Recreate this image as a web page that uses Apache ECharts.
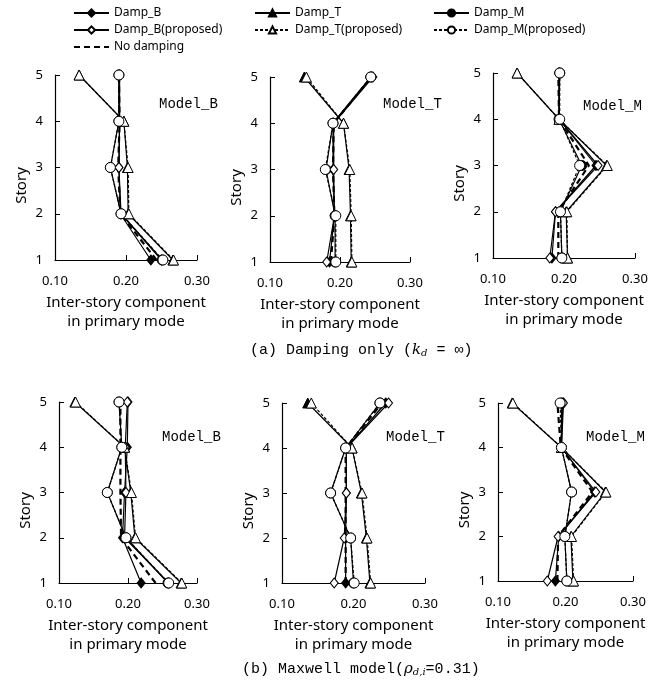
<!DOCTYPE html>
<html>
<head>
<meta charset="utf-8">
<script src="https://cdn.jsdelivr.net/npm/echarts@6/dist/echarts.min.js"></script>
<style>
  html, body { margin: 0; padding: 0; background: #fff; }
  #chart { width: 664px; height: 685px; }
</style>
</head>
<body>
<div id="chart"></div>
<script>
// stories 1..5 (bottom to top)
const stories = [1, 2, 3, 4, 5];
const xTicks = [0.10, 0.20, 0.30];
const seriesNames = ['Damp_B', 'Damp_T', 'Damp_M', 'Damp_B(proposed)', 'Damp_T(proposed)', 'Damp_M(proposed)', 'No damping'];

// each row = one series (seriesNames order), values for story 1..5
const dampOnlyModelB = [
  [0.235, 0.192, 0.190, 0.191, 0.190],
  [0.266, 0.203, 0.202, 0.197, 0.134],
  [0.251, 0.193, 0.178, 0.190, 0.190],
  [0.250, 0.193, 0.190, 0.191, 0.191],
  [0.267, 0.204, 0.203, 0.197, 0.134],
  [0.252, 0.193, 0.178, 0.190, 0.190],
  [0.243, 0.192, 0.189, 0.191, 0.190]
];
const dampOnlyModelT = [
  [0.185, 0.192, 0.190, 0.190, 0.245],
  [0.216, 0.215, 0.213, 0.205, 0.149],
  [0.193, 0.193, 0.180, 0.190, 0.244],
  [0.181, 0.192, 0.191, 0.191, 0.247],
  [0.217, 0.216, 0.214, 0.205, 0.152],
  [0.194, 0.194, 0.179, 0.190, 0.244],
  [0.187, 0.192, 0.190, 0.191, 0.245]
];
const dampOnlyModelM = [
  [0.183, 0.188, 0.245, 0.193, 0.193],
  [0.205, 0.203, 0.260, 0.193, 0.134],
  [0.197, 0.195, 0.225, 0.193, 0.194],
  [0.180, 0.188, 0.248, 0.193, 0.193],
  [0.205, 0.204, 0.261, 0.193, 0.134],
  [0.197, 0.195, 0.222, 0.194, 0.194],
  [0.192, 0.192, 0.235, 0.193, 0.192]
];
const maxwellModelB = [
  [0.219, 0.192, 0.195, 0.199, 0.200],
  [0.277, 0.210, 0.204, 0.195, 0.123],
  [0.258, 0.197, 0.170, 0.191, 0.187],
  [0.259, 0.195, 0.197, 0.196, 0.199],
  [0.278, 0.211, 0.205, 0.195, 0.124],
  [0.259, 0.197, 0.170, 0.191, 0.187],
  [0.240, 0.190, 0.189, 0.189, 0.189]
];
const maxwellModelT = [
  [0.189, 0.189, 0.190, 0.190, 0.245],
  [0.223, 0.218, 0.211, 0.198, 0.136],
  [0.200, 0.196, 0.168, 0.189, 0.237],
  [0.173, 0.187, 0.190, 0.190, 0.249],
  [0.224, 0.219, 0.212, 0.198, 0.141],
  [0.201, 0.196, 0.168, 0.189, 0.237],
  [0.189, 0.189, 0.189, 0.189, 0.240]
];
const maxwellModelM = [
  [0.185, 0.190, 0.243, 0.194, 0.196],
  [0.211, 0.208, 0.259, 0.194, 0.121],
  [0.202, 0.199, 0.209, 0.194, 0.194],
  [0.173, 0.189, 0.245, 0.194, 0.197],
  [0.212, 0.209, 0.260, 0.194, 0.122],
  [0.202, 0.199, 0.209, 0.194, 0.192],
  [0.188, 0.189, 0.240, 0.193, 0.188]
];

const panels = [
  { values: dampOnlyModelB, label: 'Model_B', box: [55, 75, 142, 185], labelPos: [154, 92] },
  { values: dampOnlyModelT, label: 'Model_T', box: [270, 77, 140, 185], labelPos: [378, 92] },
  { values: dampOnlyModelM, label: 'Model_M', box: [493, 73, 142, 185], labelPos: [578, 94] },
  { values: maxwellModelB, label: 'Model_B', box: [59, 402, 138, 181], labelPos: [157, 425] },
  { values: maxwellModelT, label: 'Model_T', box: [282, 403, 143, 180], labelPos: [381, 425] },
  { values: maxwellModelM, label: 'Model_M', box: [498, 403, 135, 178], labelPos: [581, 425] }
];

const looks = [
  { symbol: 'diamond', size: [8, 10], fill: '#000', type: 'solid', width: 1.2 },
  { symbol: 'triangle', size: 10, fill: '#000', type: 'solid', width: 1.2 },
  { symbol: 'circle', size: 10, fill: '#000', type: 'solid', width: 1.2 },
  { symbol: 'diamond', size: [8, 10], fill: '#fff', type: 'solid', width: 1.2 },
  { symbol: 'triangle', size: 10, fill: '#fff', type: [3, 2], width: 1.2 },
  { symbol: 'circle', size: 10, fill: '#fff', type: [3, 2], width: 1.2 },
  { symbol: 'none', size: 0, fill: '#000', type: [6, 4], width: 2.2 }
];
// draw no-damping first, filled markers next, open markers on top
const drawOrder = [6, 0, 1, 2, 3, 4, 5];

const sansFont = 'Noto Sans';
const monoFont = 'Liberation Mono';

const grid = [], xAxis = [], yAxis = [], series = [], title = [];

panels.forEach((p, i) => {
  grid.push({ left: p.box[0], top: p.box[1], width: p.box[2], height: p.box[3] });
  xAxis.push({
    gridIndex: i, type: 'value', min: xTicks[0], max: xTicks[xTicks.length - 1], interval: 0.1,
    name: 'Inter-story component\nin primary mode', nameLocation: 'middle', nameGap: 33,
    nameTextStyle: { fontFamily: sansFont, fontSize: 15, color: '#000', lineHeight: 19 },
    axisLine: { lineStyle: { color: '#000', width: 1.2 } },
    axisTick: { inside: true, length: 5, lineStyle: { color: '#000' } },
    axisLabel: { margin: 15, fontFamily: sansFont, fontSize: 13, color: '#000', formatter: v => v.toFixed(2) },
    splitLine: { show: false }
  });
  yAxis.push({
    gridIndex: i, type: 'value', min: stories[0], max: stories[stories.length - 1], interval: 1,
    name: 'Story', nameLocation: 'middle', nameGap: 26,
    nameTextStyle: { fontFamily: sansFont, fontSize: 15, color: '#000', padding: [0, 36, 0, 0] },
    axisLine: { show: true, lineStyle: { color: '#000', width: 1.2 } },
    axisTick: { inside: true, length: 5, lineStyle: { color: '#000' } },
    axisLabel: { margin: 12, fontFamily: sansFont, fontSize: 13, color: '#000' },
    splitLine: { show: false }
  });
  drawOrder.forEach(k => {
    const lk = looks[k];
    series.push({
      name: seriesNames[k], type: 'line', xAxisIndex: i, yAxisIndex: i,
      data: p.values[k].map((v, j) => [v, stories[j]]),
      symbol: lk.symbol, symbolSize: lk.size, showSymbol: lk.symbol !== 'none',
      itemStyle: { color: lk.fill, borderColor: '#000', borderWidth: 1 },
      lineStyle: { color: '#000', width: lk.width, type: lk.type },
      emphasis: { disabled: true }, animation: false
    });
  });
  title.push({
    text: p.label, left: p.labelPos[0], top: p.labelPos[1],
    textStyle: { fontFamily: monoFont, fontSize: 14, fontWeight: 'normal', color: '#000' }
  });
});

const captionRich = {
  k: { fontFamily: 'DejaVu Serif', fontStyle: 'italic', fontSize: 15, color: '#000' },
  s: { fontFamily: 'DejaVu Serif', fontStyle: 'italic', fontSize: 10, color: '#000', verticalAlign: 'bottom', padding: [6, 0, 0, 0] }
};
title.push({
  text: '(a) Damping only ({k|k}{s|d} = ∞)', left: 245, top: 337,
  textStyle: { fontFamily: monoFont, fontSize: 15, fontWeight: 'normal', color: '#000', rich: captionRich }
});
title.push({
  text: '(b) Maxwell model({k|ρ}{s|d,i}=0.31)', left: 237, top: 656,
  textStyle: { fontFamily: monoFont, fontSize: 15, fontWeight: 'normal', color: '#000', rich: captionRich }
});

const legendBase = {
  orient: 'vertical', itemWidth: 35, itemHeight: 9, itemGap: 5,
  textStyle: { fontFamily: sansFont, fontSize: 12, color: '#000' }
};
const legend = [
  Object.assign({}, legendBase, {
    left: 68, top: 2,
    data: ['Damp_B', 'Damp_B(proposed)', { name: 'No damping', itemStyle: { opacity: 0 } }]
  }),
  Object.assign({}, legendBase, { left: 249, top: 2, data: ['Damp_T', 'Damp_T(proposed)'] }),
  Object.assign({}, legendBase, { left: 428, top: 2, data: ['Damp_M', 'Damp_M(proposed)'] })
];

const chart = echarts.init(document.getElementById('chart'));
chart.setOption({
  backgroundColor: '#fff',
  animation: false,
  title: title,
  legend: legend,
  grid: grid,
  xAxis: xAxis,
  yAxis: yAxis,
  series: series
});
</script>
</body>
</html>
